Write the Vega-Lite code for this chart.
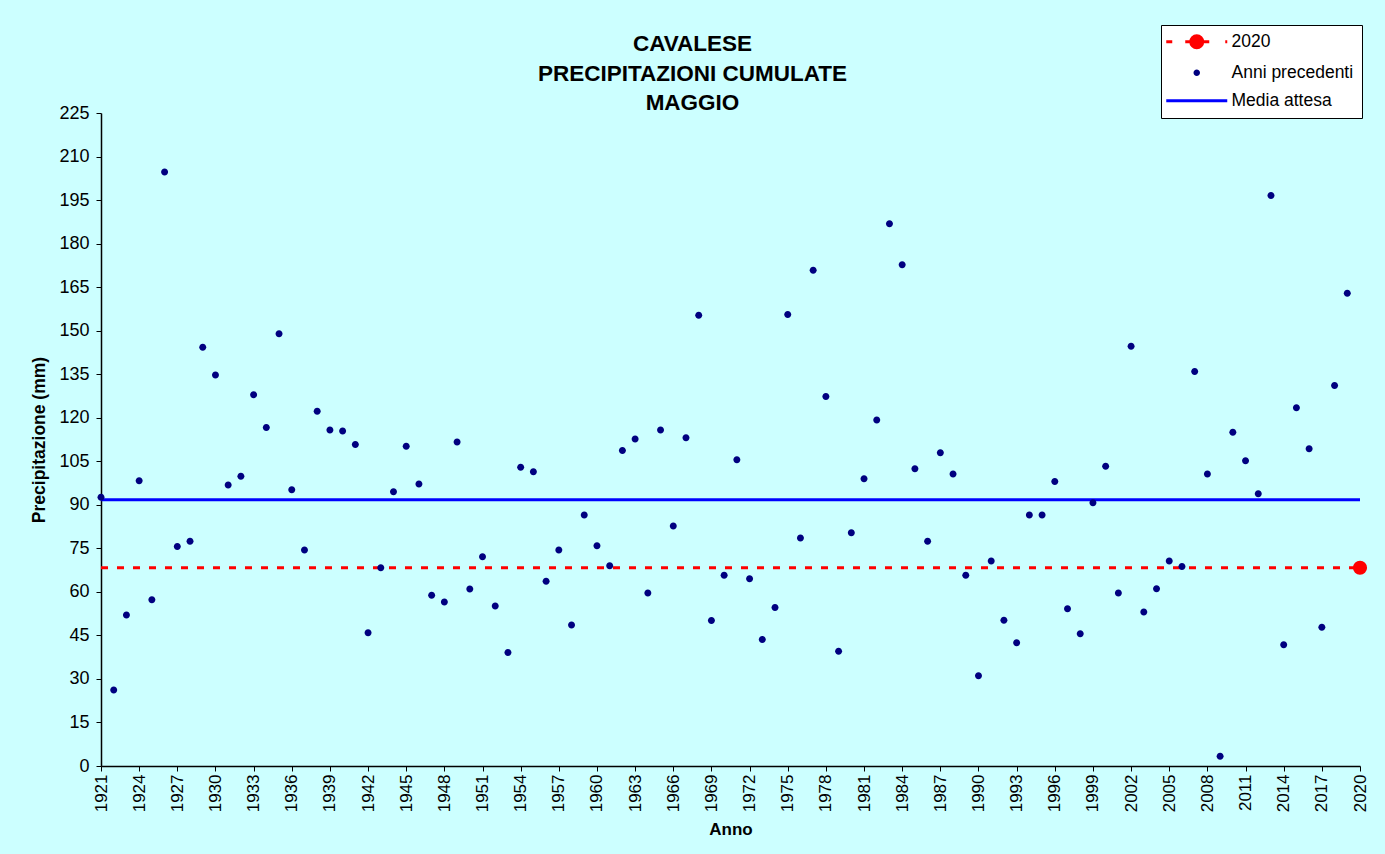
{
  "$schema": "https://vega.github.io/schema/vega-lite/v6.json",
  "width": 1259,
  "height": 653,
  "autosize": {"type": "none"},
  "padding": {"left": 101, "top": 113, "right": 25, "bottom": 88},
  "background": "#CCFFFF",
  "config": {
    "font": "Liberation Sans",
    "view": {"stroke": null},
    "axis": {"grid": false, "domainColor": "#000000", "tickColor": "#000000", "labelColor": "#000000", "titleColor": "#000000", "labelFont": "Liberation Sans", "titleFont": "Liberation Sans"},
    "axisX": {"labelOverlap": false, "labelFlush": false},
    "axisY": {"labelOverlap": false, "labelFlush": false}
  },
  "title": {
    "text": ["CAVALESE", "PRECIPITAZIONI CUMULATE", "MAGGIO"],
    "fontSize": 22.5,
    "fontWeight": "bold",
    "font": "Liberation Sans",
    "color": "#000000",
    "lineHeight": 29.5,
    "anchor": "middle",
    "dx": -38,
    "offset": -90
  },
  "datasets": {
    "anni": [
      {"anno": 1921, "mm": 92.6, "serie": "Anni precedenti"},
      {"anno": 1922, "mm": 26.2, "serie": "Anni precedenti"},
      {"anno": 1923, "mm": 52.0, "serie": "Anni precedenti"},
      {"anno": 1924, "mm": 98.3, "serie": "Anni precedenti"},
      {"anno": 1925, "mm": 57.3, "serie": "Anni precedenti"},
      {"anno": 1926, "mm": 204.7, "serie": "Anni precedenti"},
      {"anno": 1927, "mm": 75.6, "serie": "Anni precedenti"},
      {"anno": 1928, "mm": 77.4, "serie": "Anni precedenti"},
      {"anno": 1929, "mm": 144.3, "serie": "Anni precedenti"},
      {"anno": 1930, "mm": 134.7, "serie": "Anni precedenti"},
      {"anno": 1931, "mm": 96.8, "serie": "Anni precedenti"},
      {"anno": 1932, "mm": 99.8, "serie": "Anni precedenti"},
      {"anno": 1933, "mm": 127.9, "serie": "Anni precedenti"},
      {"anno": 1934, "mm": 116.6, "serie": "Anni precedenti"},
      {"anno": 1935, "mm": 148.9, "serie": "Anni precedenti"},
      {"anno": 1936, "mm": 95.2, "serie": "Anni precedenti"},
      {"anno": 1937, "mm": 74.4, "serie": "Anni precedenti"},
      {"anno": 1938, "mm": 122.2, "serie": "Anni precedenti"},
      {"anno": 1939, "mm": 115.8, "serie": "Anni precedenti"},
      {"anno": 1940, "mm": 115.4, "serie": "Anni precedenti"},
      {"anno": 1941, "mm": 110.8, "serie": "Anni precedenti"},
      {"anno": 1942, "mm": 45.9, "serie": "Anni precedenti"},
      {"anno": 1943, "mm": 68.3, "serie": "Anni precedenti"},
      {"anno": 1944, "mm": 94.5, "serie": "Anni precedenti"},
      {"anno": 1945, "mm": 110.2, "serie": "Anni precedenti"},
      {"anno": 1946, "mm": 97.2, "serie": "Anni precedenti"},
      {"anno": 1947, "mm": 58.8, "serie": "Anni precedenti"},
      {"anno": 1948, "mm": 56.5, "serie": "Anni precedenti"},
      {"anno": 1949, "mm": 111.6, "serie": "Anni precedenti"},
      {"anno": 1950, "mm": 61.0, "serie": "Anni precedenti"},
      {"anno": 1951, "mm": 72.1, "serie": "Anni precedenti"},
      {"anno": 1952, "mm": 55.1, "serie": "Anni precedenti"},
      {"anno": 1953, "mm": 39.1, "serie": "Anni precedenti"},
      {"anno": 1954, "mm": 102.9, "serie": "Anni precedenti"},
      {"anno": 1955, "mm": 101.4, "serie": "Anni precedenti"},
      {"anno": 1956, "mm": 63.7, "serie": "Anni precedenti"},
      {"anno": 1957, "mm": 74.4, "serie": "Anni precedenti"},
      {"anno": 1958, "mm": 48.6, "serie": "Anni precedenti"},
      {"anno": 1959, "mm": 86.5, "serie": "Anni precedenti"},
      {"anno": 1960, "mm": 75.9, "serie": "Anni precedenti"},
      {"anno": 1961, "mm": 69.0, "serie": "Anni precedenti"},
      {"anno": 1962, "mm": 108.7, "serie": "Anni precedenti"},
      {"anno": 1963, "mm": 112.7, "serie": "Anni precedenti"},
      {"anno": 1964, "mm": 59.6, "serie": "Anni precedenti"},
      {"anno": 1965, "mm": 115.8, "serie": "Anni precedenti"},
      {"anno": 1966, "mm": 82.7, "serie": "Anni precedenti"},
      {"anno": 1967, "mm": 113.1, "serie": "Anni precedenti"},
      {"anno": 1968, "mm": 155.3, "serie": "Anni precedenti"},
      {"anno": 1969, "mm": 50.1, "serie": "Anni precedenti"},
      {"anno": 1970, "mm": 65.7, "serie": "Anni precedenti"},
      {"anno": 1971, "mm": 105.5, "serie": "Anni precedenti"},
      {"anno": 1972, "mm": 64.5, "serie": "Anni precedenti"},
      {"anno": 1973, "mm": 43.6, "serie": "Anni precedenti"},
      {"anno": 1974, "mm": 54.6, "serie": "Anni precedenti"},
      {"anno": 1975, "mm": 155.6, "serie": "Anni precedenti"},
      {"anno": 1976, "mm": 78.6, "serie": "Anni precedenti"},
      {"anno": 1977, "mm": 170.8, "serie": "Anni precedenti"},
      {"anno": 1978, "mm": 127.3, "serie": "Anni precedenti"},
      {"anno": 1979, "mm": 39.5, "serie": "Anni precedenti"},
      {"anno": 1980, "mm": 80.4, "serie": "Anni precedenti"},
      {"anno": 1981, "mm": 99.0, "serie": "Anni precedenti"},
      {"anno": 1982, "mm": 119.2, "serie": "Anni precedenti"},
      {"anno": 1983, "mm": 186.8, "serie": "Anni precedenti"},
      {"anno": 1984, "mm": 172.7, "serie": "Anni precedenti"},
      {"anno": 1985, "mm": 102.4, "serie": "Anni precedenti"},
      {"anno": 1986, "mm": 77.4, "serie": "Anni precedenti"},
      {"anno": 1987, "mm": 107.9, "serie": "Anni precedenti"},
      {"anno": 1988, "mm": 100.6, "serie": "Anni precedenti"},
      {"anno": 1989, "mm": 65.7, "serie": "Anni precedenti"},
      {"anno": 1990, "mm": 31.1, "serie": "Anni precedenti"},
      {"anno": 1991, "mm": 70.6, "serie": "Anni precedenti"},
      {"anno": 1992, "mm": 50.2, "serie": "Anni precedenti"},
      {"anno": 1993, "mm": 42.5, "serie": "Anni precedenti"},
      {"anno": 1994, "mm": 86.5, "serie": "Anni precedenti"},
      {"anno": 1995, "mm": 86.5, "serie": "Anni precedenti"},
      {"anno": 1996, "mm": 98.0, "serie": "Anni precedenti"},
      {"anno": 1997, "mm": 54.2, "serie": "Anni precedenti"},
      {"anno": 1998, "mm": 45.6, "serie": "Anni precedenti"},
      {"anno": 1999, "mm": 90.7, "serie": "Anni precedenti"},
      {"anno": 2000, "mm": 103.3, "serie": "Anni precedenti"},
      {"anno": 2001, "mm": 59.6, "serie": "Anni precedenti"},
      {"anno": 2002, "mm": 144.6, "serie": "Anni precedenti"},
      {"anno": 2003, "mm": 53.1, "serie": "Anni precedenti"},
      {"anno": 2004, "mm": 61.1, "serie": "Anni precedenti"},
      {"anno": 2005, "mm": 70.6, "serie": "Anni precedenti"},
      {"anno": 2006, "mm": 68.7, "serie": "Anni precedenti"},
      {"anno": 2007, "mm": 135.9, "serie": "Anni precedenti"},
      {"anno": 2008, "mm": 100.6, "serie": "Anni precedenti"},
      {"anno": 2009, "mm": 3.4, "serie": "Anni precedenti"},
      {"anno": 2010, "mm": 115.0, "serie": "Anni precedenti"},
      {"anno": 2011, "mm": 105.2, "serie": "Anni precedenti"},
      {"anno": 2012, "mm": 93.8, "serie": "Anni precedenti"},
      {"anno": 2013, "mm": 196.6, "serie": "Anni precedenti"},
      {"anno": 2014, "mm": 41.8, "serie": "Anni precedenti"},
      {"anno": 2015, "mm": 123.4, "serie": "Anni precedenti"},
      {"anno": 2016, "mm": 109.3, "serie": "Anni precedenti"},
      {"anno": 2017, "mm": 47.8, "serie": "Anni precedenti"},
      {"anno": 2018, "mm": 131.1, "serie": "Anni precedenti"},
      {"anno": 2019, "mm": 162.9, "serie": "Anni precedenti"}
    ],
    "anno2020": [
      {"anno": 2020, "mm": 68.3, "serie": "2020"}
    ],
    "linea2020": [
      {"da": 1921, "a": 2020, "mm": 68.3, "serie": "2020"}
    ],
    "media": [
      {"da": 1921, "a": 2020, "mm": 91.7, "serie": "Media attesa"}
    ]
  },
  "layer": [
    {
      "data": {"name": "linea2020"},
      "mark": {"type": "rule", "strokeWidth": 3, "strokeDash": [7, 9]},
      "encoding": {
        "x": {"field": "da", "type": "quantitative",
          "scale": {"domain": [1921, 2020], "nice": false, "zero": false},
          "axis": {
            "title": "Anno", "titleFontSize": 17, "titleFontWeight": "bold", "titlePadding": 10,
            "values": [1921,1924,1927,1930,1933,1936,1939,1942,1945,1948,1951,1954,1957,1960,1963,1966,1969,1972,1975,1978,1981,1984,1987,1990,1993,1996,1999,2002,2005,2008,2011,2014,2017,2020],
            "tickCount": 100,
            "format": "d", "labelAngle": -90, "labelAlign": "right", "labelBaseline": "middle",
            "labelFontSize": 17, "tickSize": 5, "labelPadding": 3, "domainWidth": 1.5,
            "labelOverlap": false, "labelFlush": false, "labelBound": false
          }
        },
        "x2": {"field": "a"},
        "y": {"field": "mm", "type": "quantitative",
          "scale": {"domain": [0, 225], "nice": false},
          "axis": {
            "title": "Precipitazione (mm)", "titleFontSize": 17.5, "titleFontWeight": "bold", "titlePadding": 10,
            "values": [0,15,30,45,60,75,90,105,120,135,150,165,180,195,210,225],
            "tickCount": 100,
            "labelFontSize": 18, "tickSize": 5, "labelPadding": 7, "domainWidth": 1.5
          }
        },
        "color": {"field": "serie", "type": "nominal"}
      }
    },
    {
      "data": {"name": "media"},
      "mark": {"type": "rule", "strokeWidth": 3},
      "encoding": {
        "x": {"field": "da", "type": "quantitative"},
        "x2": {"field": "a"},
        "y": {"field": "mm", "type": "quantitative"},
        "color": {"field": "serie", "type": "nominal"}
      }
    },
    {
      "data": {"name": "anni"},
      "mark": {"type": "point", "filled": true, "opacity": 1, "size": 400},
      "encoding": {
        "x": {"field": "anno", "type": "quantitative"},
        "y": {"field": "mm", "type": "quantitative"},
        "shape": {"field": "serie", "type": "nominal",
          "scale": {
            "domain": ["2020", "Anni precedenti", "Media attesa"],
            "range": [
              "M-6.1,0H-4.9M-2.3,0H-1.2A1.2,1.2 0 1 1 1.2,0A1.2,1.2 0 1 1 -1.2,0M1.2,0H2.5M5.7,0H6.1",
              "M-0.35,0A0.35,0.35 0 1 1 0.35,0A0.35,0.35 0 1 1 -0.35,0Z",
              "M-6.1,0H6.1"
            ]
          },
          "legend": null
        },
        "color": {"field": "serie", "type": "nominal",
          "scale": {
            "domain": ["2020", "Anni precedenti", "Media attesa"],
            "range": ["#FF0000", "#000080", "#0000FF"]
          },
          "legend": {
            "title": null,
            "orient": "none",
            "legendX": 1060,
            "legendY": -88,
            "fillColor": "#FFFFFF",
            "strokeColor": "#000000",
            "padding": 8,
            "symbolSize": 100,
            "symbolType": "M-6.1,0H6.1",
            "symbolStrokeWidth": 3,
            "symbolOffset": 19,
            "labelOffset": 26,
            "labelFontSize": 17.5,
            "labelFont": "Liberation Sans",
            "labelColor": "#000000",
            "rowPadding": 9,
            "encode": {
              "symbols": {
                "update": {
                  "shape": {"scale": "shape", "field": "value"},
                  "stroke": {"scale": "color", "field": "value"},
                  "fill": {"scale": "color", "field": "value"},
                  "opacity": {"value": 1},
                  "strokeWidth": {"value": 3}
                }
              }
            }
          }
        }
      }
    },
    {
      "data": {"name": "anno2020"},
      "mark": {"type": "point", "filled": true, "opacity": 1, "size": 200, "shape": "circle"},
      "encoding": {
        "x": {"field": "anno", "type": "quantitative"},
        "y": {"field": "mm", "type": "quantitative"},
        "color": {"field": "serie", "type": "nominal"}
      }
    }
  ]
}
